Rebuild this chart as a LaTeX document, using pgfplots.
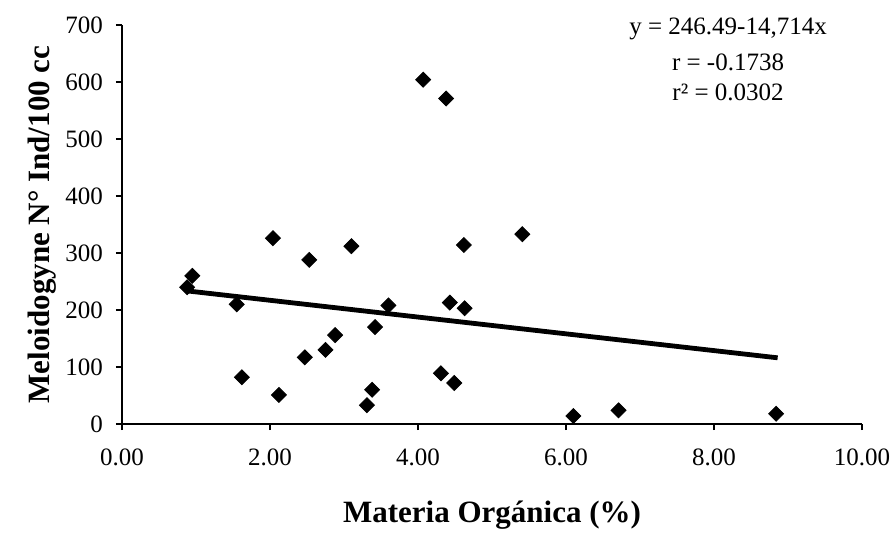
\documentclass[border=0pt]{standalone}
\usepackage{fontspec}
\setmainfont{Liberation Serif}
\usepackage{pgfplots}
\pgfplotsset{compat=1.18}

\pgfplotstableread{
x y
0.95 260
0.88 240
1.55 210
1.62 82
2.04 326
2.12 51
2.53 288
2.47 117
2.75 130
2.88 156
3.10 312
3.38 60
3.31 33
3.42 170
3.60 208
4.07 604
4.38 571
4.43 213
4.63 203
4.62 314
4.31 89
4.49 72
5.41 333
6.10 14
6.71 24
8.84 18
}\datos

\begin{document}
\begin{tikzpicture}
\begin{axis}[
  scale only axis,
  width=370pt, height=199.5pt,
  xmin=0, xmax=10, ymin=0, ymax=700,
  xtick={0,2,...,10}, ytick={0,100,...,700},
  axis x line=bottom, axis y line=left,
  axis line style={-, black, line width=0.6pt},
  tick align=outside, major tick length=3pt,
  tick style={black, line width=0.6pt},
  /pgf/number format/assume math mode=true,
  xticklabel style={/pgf/number format/.cd, fixed, zerofill, precision=2, /tikz/.cd,
    font=\fontsize{12.5}{15}\selectfont, yshift=-6pt},
  yticklabel style={font=\fontsize{12.5}{15}\selectfont, xshift=-3pt},
  xlabel={Materia Orgánica (\%)},
  ylabel={Meloidogyne N° Ind/100 cc},
  xlabel style={font=\fontsize{15.5}{18}\selectfont\bfseries,
    at={(axis description cs:0.5,-0.228)}, anchor=center},
  ylabel style={font=\fontsize{15.5}{18}\selectfont\bfseries,
    at={(axis description cs:-0.108,0.5)}, anchor=center, rotate=0},
  clip=false,
]
\addplot[only marks, mark=square*, mark size=2.65pt, mark options={rotate=45, fill=black, draw=black}]
  table[x=x, y=y] {\datos};
\addplot[black, line width=2.4pt] coordinates {(0.88,233.54) (8.86,116.12)};
\node[font=\fontsize{12.5}{15}\selectfont, anchor=center] at (axis description cs:0.819,0.99) {y = 246.49-14,714x};
\node[font=\fontsize{12.5}{15}\selectfont, anchor=center] at (axis description cs:0.819,0.907) {r = -0.1738};
\node[font=\fontsize{12.5}{15}\selectfont, anchor=center] at (axis description cs:0.819,0.83) {r² = 0.0302};
\end{axis}
\pgfresetboundingbox
\useasboundingbox ([shift={(-61pt,-56.5pt)}]current axis.south west) rectangle ([shift={(386.5pt,212pt)}]current axis.south west);
\end{tikzpicture}
\end{document}
